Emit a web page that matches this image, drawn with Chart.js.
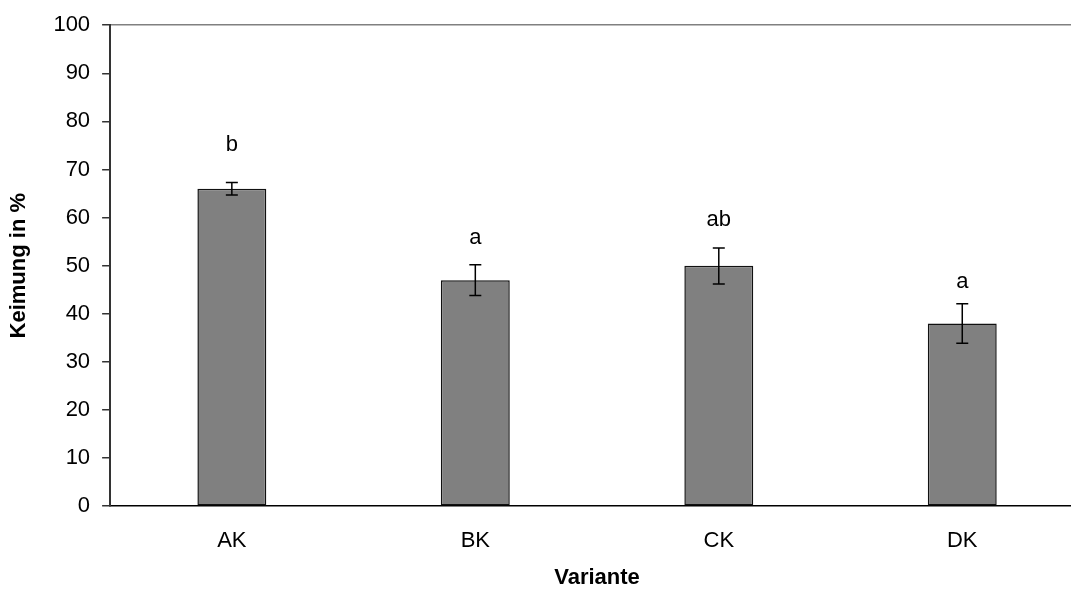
<!DOCTYPE html>
<html>
<head>
<meta charset="utf-8">
<script src="https://cdn.jsdelivr.net/npm/chart.js@4"></script>
<style>
  html, body { margin: 0; padding: 0; background: #fff; overflow: hidden; }
  #wrap { width: 1071px; height: 591px; overflow: hidden; }
  #wrap div { width: 1120px; height: 591px; }
</style>
</head>
<body>
<div id="wrap"><div><canvas id="chart"></canvas></div></div>
<script>
// ─── Data ────────────────────────────────────────────────
const categories = ['AK', 'BK', 'CK', 'DK'];
const germination = [66, 47, 50, 38];
const errLow  = [64.7, 43.8, 46.2, 33.9];
const errHigh = [67.3, 50.2, 53.7, 42.1];
const sigLetters = ['b', 'a', 'ab', 'a'];
const letterY = [75.2, 55.7, 59.6, 46.6];
const yTicks = [0, 10, 20, 30, 40, 50, 60, 70, 80, 90, 100];

const FONT = 'Liberation Sans, Arial, sans-serif';

// error bars + significance letters
const errorBarPlugin = {
  id: 'errorBars',
  afterDatasetsDraw(chart) {
    const { ctx, scales: { x, y } } = chart;
    ctx.save();
    ctx.strokeStyle = '#000';
    ctx.lineWidth = 1.5;
    categories.forEach((c, i) => {
      const px = x.getPixelForValue(i);
      const top = y.getPixelForValue(errHigh[i]);
      const bot = y.getPixelForValue(errLow[i]);
      ctx.beginPath();
      ctx.moveTo(px, top); ctx.lineTo(px, bot);
      ctx.moveTo(px - 6, top); ctx.lineTo(px + 6, top);
      ctx.moveTo(px - 6, bot); ctx.lineTo(px + 6, bot);
      ctx.stroke();
    });
    ctx.fillStyle = '#000';
    ctx.font = '22px ' + FONT;
    ctx.textAlign = 'center';
    ctx.textBaseline = 'middle';
    sigLetters.forEach((t, i) => {
      ctx.fillText(t, x.getPixelForValue(i), y.getPixelForValue(letterY[i]));
    });
    ctx.restore();
  },
};

new Chart(document.getElementById('chart'), {
  type: 'bar',
  data: {
    labels: categories,
    datasets: [{
      data: germination,
      backgroundColor: '#808080',
      borderColor: '#111',
      borderWidth: 1.5,
      borderSkipped: false,
      barPercentage: 0.283,
      categoryPercentage: 1,
    }],
  },
  options: {
    responsive: true,
    maintainAspectRatio: false,
    animation: false,
    layout: { padding: { top: 7, left: 2, right: 36, bottom: 0 } },
    plugins: { legend: { display: false }, tooltip: { enabled: false } },
    scales: {
      x: {
        grid: { display: false, drawTicks: false },
        border: { color: '#000', width: 1.5 },
        ticks: { color: '#000', font: { family: FONT, size: 22 }, padding: 22 },
        title: {
          display: true, text: 'Variante', color: '#000',
          font: { family: FONT, size: 22, weight: 'bold' }, padding: { top: -12, bottom: 0 },
        },
      },
      y: {
        min: 0, max: 100,
        afterBuildTicks: axis => { axis.ticks = yTicks.map(v => ({ value: v })); },
        grid: {
          color: c => c.tick && c.tick.value === 100 ? '#808080' : 'rgba(0,0,0,0)',
          tickColor: '#333',
          tickLength: 8,
          lineWidth: 1.5,
        },
        border: { color: '#333', width: 2 },
        ticks: { color: '#000', font: { family: FONT, size: 22 }, padding: 12 },
        title: {
          display: true, text: 'Keimung in %', color: '#000',
          font: { family: FONT, size: 22, weight: 'bold' }, padding: { bottom: 9 },
        },
      },
    },
  },
  plugins: [errorBarPlugin],
});
</script>
</body>
</html>
